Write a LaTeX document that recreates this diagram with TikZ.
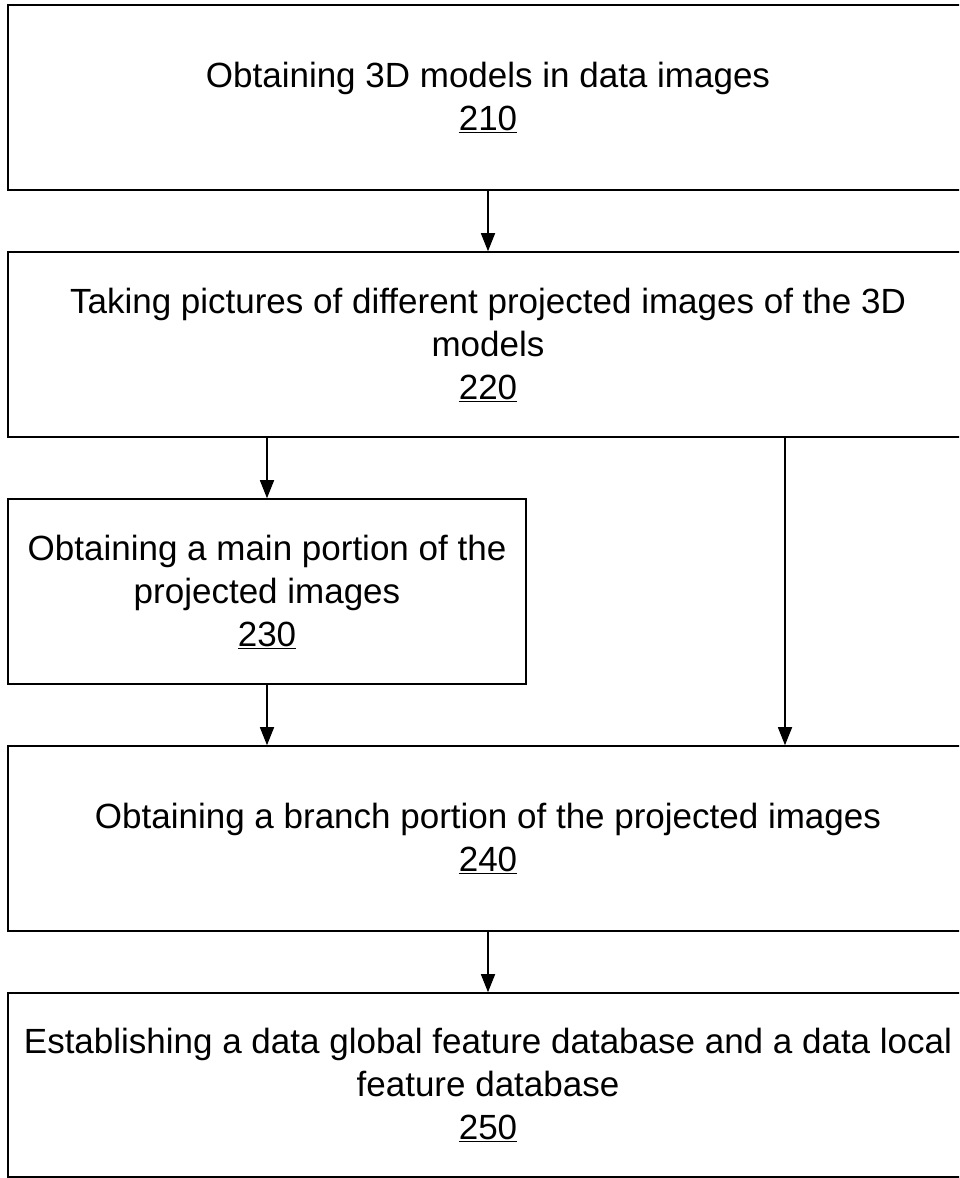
\documentclass[tikz,border=0pt]{standalone}
\usepackage{fontspec}
\setmainfont{Liberation Sans}
\usetikzlibrary{arrows.meta}
\begin{document}
\begin{tikzpicture}[x=1pt,y=-1pt,
  box/.style={draw=black,line width=1.6pt,rectangle,align=center,inner sep=0pt,
    font=\fontsize{35}{43}\selectfont},
  arr/.style={line width=1.6pt,-{Triangle[length=18pt,width=14pt]}}]
\useasboundingbox (0,0) rectangle (959,1178);
\clip (0,0) rectangle (959,1178);
\fill[white] (0,0) rectangle (959,1178);
\node[box,minimum width=960pt,minimum height=185pt] (b210) at (488,97.5)
  {Obtaining 3D models in data images\\\underline{210}};
\node[box,minimum width=960pt,minimum height=185pt] (b220) at (488,344.5)
  {Taking pictures of different projected images of the 3D\\models\\\underline{220}};
\node[box,minimum width=518pt,minimum height=185pt] (b230) at (267,591.5)
  {Obtaining a main portion of the\\projected images\\\underline{230}};
\node[box,minimum width=960pt,minimum height=185pt] (b240) at (488,838.5)
  {Obtaining a branch portion of the projected images\\\underline{240}};
\node[box,minimum width=960pt,minimum height=184pt] (b250) at (488,1085)
  {Establishing a data global feature database and a data local\\feature database\\\underline{250}};
\coordinate (xr) at (785,0);
\draw[arr] (b210) -- (b220);
\draw[arr] (b220.south -| b230) -- (b230);
\draw[arr] (b220.south -| xr) -- (b240.north -| xr);
\draw[arr] (b230) -- (b230 |- b240.north);
\draw[arr] (b240) -- (b250);
\end{tikzpicture}
\end{document}
